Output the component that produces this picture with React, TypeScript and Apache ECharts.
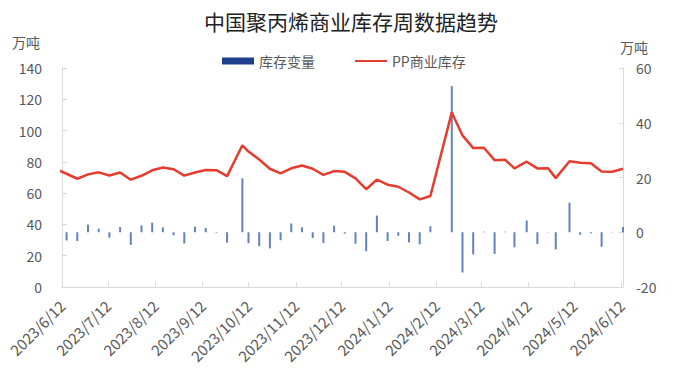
import React, { useEffect, useRef } from "react";
import * as echarts from "echarts";

// Weekly release dates (holiday weeks shifted)
const dates: string[] = [
  "2023/6/8", "2023/6/15", "2023/6/22", "2023/6/29", "2023/7/6", "2023/7/13", "2023/7/20", "2023/7/27",
  "2023/8/3", "2023/8/10", "2023/8/17", "2023/8/24", "2023/8/31", "2023/9/7", "2023/9/14", "2023/9/21",
  "2023/9/28", "2023/10/8", "2023/10/12", "2023/10/19", "2023/10/26", "2023/11/2", "2023/11/9", "2023/11/16",
  "2023/11/23", "2023/11/30", "2023/12/7", "2023/12/14", "2023/12/21", "2023/12/28", "2024/1/4", "2024/1/11",
  "2024/1/18", "2024/1/25", "2024/2/1", "2024/2/8", "2024/2/22", "2024/2/29", "2024/3/7", "2024/3/14",
  "2024/3/21", "2024/3/28", "2024/4/3", "2024/4/11", "2024/4/18", "2024/4/25", "2024/4/30", "2024/5/9",
  "2024/5/16", "2024/5/23", "2024/5/30", "2024/6/6", "2024/6/13",
];

// PP商业库存 (万吨, left axis)
const inventory: number[] = [
  75.4, 72.4, 69.2, 72.0, 73.3, 71.3, 73.2, 68.6,
  71.1, 74.6, 76.4, 75.3, 71.2, 73.2, 74.8, 74.7,
  70.9, 90.6, 86.6, 81.5, 75.6, 72.7, 75.9, 77.7,
  75.6, 71.7, 74.1, 73.6, 69.4, 62.5, 68.6, 65.4,
  64.1, 60.4, 56.0, 58.2, 111.6, 96.9, 88.8, 89.0,
  81.1, 81.3, 75.8, 80.1, 75.8, 75.9, 69.6, 80.4,
  79.5, 79.1, 73.8, 73.7, 75.6,
];

// 库存变量 (万吨, right axis)
const change: (number | null)[] = [
  null, -3.0, -3.2, 2.8, 1.3, -2.0, 1.9, -4.6,
  2.5, 3.5, 1.8, -1.1, -4.1, 2.0, 1.6, -0.2,
  -3.8, 19.7, -4.0, -5.1, -5.9, -2.9, 3.2, 1.8,
  -2.1, -3.9, 2.4, -0.5, -4.2, -6.9, 6.1, -3.2,
  -1.3, -3.7, -4.4, 2.2, 53.4, -14.7, -8.1, 0.2,
  -7.9, 0.2, -5.5, 4.3, -4.3, 0.1, -6.3, 10.8,
  -0.9, -0.4, -5.3, -0.1, 1.9,
];

const tickDates: string[] = [
  "2023/6/12", "2023/7/12", "2023/8/12", "2023/9/12", "2023/10/12", "2023/11/12", "2023/12/12",
  "2024/1/12", "2024/2/12", "2024/3/12", "2024/4/12", "2024/5/12", "2024/6/12",
];

const leftTicks = { min: 0, max: 140, interval: 20 };
const rightTicks = { min: -20, max: 60, interval: 20 };

const ts = (s: string) => {
  const [y, m, d] = s.split("/").map(Number);
  return Date.UTC(y, m - 1, d);
};
const fmt = (v: number) => {
  const d = new Date(v);
  return `${d.getUTCFullYear()}/${d.getUTCMonth() + 1}/${d.getUTCDate()}`;
};

const FONT = "'Noto Sans CJK SC', 'Noto Sans', sans-serif";
const GRAY = "#595959";
const AXIS = "#d9d9d9";
const RED = "#e53c2e";

export default function App() {
  const ref = useRef<HTMLDivElement>(null);
  useEffect(() => {
    document.body.style.margin = "0";
    if (!ref.current) return;
    const chart = echarts.init(ref.current, undefined, { renderer: "svg" });
    const tickTs = tickDates.map(ts);
    chart.setOption({
      animation: false,
      textStyle: { fontFamily: FONT },
      grid: { left: 62, right: 56, top: 68, bottom: 89, containLabel: false },
      legend: {
        left: 217,
        top: 49,
        itemGap: 40,
        itemWidth: 32,
        itemHeight: 7,
        textStyle: { fontSize: 14, color: GRAY, fontFamily: FONT },
        data: [
          { name: "库存变量", icon: "rect", itemStyle: { color: "#1f3f8a" } },
          {
            name: "PP商业库存",
            icon: "path://M0,0 L0.01,0 L0.01,0.01 Z M0,2.6 L32,2.6 L32,4.4 L0,4.4 Z M0,7 L0.01,7 L0.01,6.99 Z",
            itemStyle: { color: RED },
            lineStyle: { width: 0, opacity: 0 },
          },
        ],
      },
      graphic: [
        {
          type: "text",
          x: 351,
          y: 21,
          style: {
            text: "中国聚丙烯商业库存周数据趋势",
            fill: "#222",
            font: `21px ${FONT}`,
            align: "center",
            verticalAlign: "middle",
          },
        },
        {
          type: "text",
          x: 12,
          y: 42,
          style: { text: "万吨", fill: GRAY, font: `14px ${FONT}`, align: "left", verticalAlign: "middle" },
        },
        {
          type: "text",
          x: 620,
          y: 47,
          style: { text: "万吨", fill: GRAY, font: `14px ${FONT}`, align: "left", verticalAlign: "middle" },
        },
      ],
      xAxis: {
        type: "value",
        min: ts("2023/6/12"),
        max: ts("2024/6/13"),
        splitLine: { show: false },
        axisLine: { show: true, lineStyle: { color: AXIS } },
        axisTick: { show: true, inside: true, length: 5, customValues: tickTs, lineStyle: { color: AXIS } },
        axisLabel: {
          customValues: tickTs,
          rotate: 45,
          fontSize: 15,
          color: GRAY,
          margin: 16,
          formatter: (v: number) => fmt(v),
        },
      },
      yAxis: [
        {
          type: "value",
          ...leftTicks,
          splitLine: { show: false },
          axisLine: { show: true, lineStyle: { color: AXIS } },
          axisTick: { show: true, inside: true, length: 5, lineStyle: { color: AXIS } },
          axisLabel: { fontSize: 14, color: GRAY, margin: 20 },
        },
        {
          type: "value",
          ...rightTicks,
          position: "right",
          splitLine: { show: false },
          axisLine: { show: true, lineStyle: { color: AXIS } },
          axisTick: { show: true, inside: true, length: 4, lineStyle: { color: AXIS } },
          axisLabel: { fontSize: 14, color: GRAY, margin: 13 },
        },
      ],
      series: [
        {
          name: "库存变量",
          type: "bar",
          yAxisIndex: 1,
          barWidth: 2,
          clip: false,
          itemStyle: { color: "#6283bd" },
          data: dates.map((d, i) => [ts(d), change[i]]).filter((p) => p[1] !== null),
        },
        {
          name: "PP商业库存",
          type: "line",
          yAxisIndex: 0,
          symbol: "none",
          clip: true,
          lineStyle: { color: RED, width: 2.5 },
          itemStyle: { color: RED },
          data: dates.map((d, i) => [ts(d), inventory[i]]),
        },
      ],
    });
    return () => chart.dispose();
  }, []);
  return <div ref={ref} style={{ width: 679, height: 376 }} />;
}
